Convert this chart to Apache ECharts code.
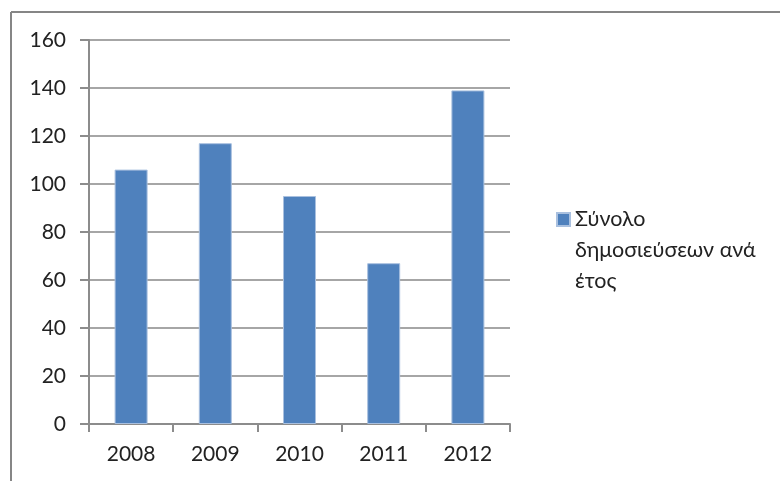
<!DOCTYPE html>
<html>
<head>
<meta charset="utf-8">
<script src="https://cdn.jsdelivr.net/npm/echarts@6/dist/echarts.min.js"></script>
<style>
html,body{margin:0;padding:0;background:#fff;}
#c{width:780px;height:481px;}
</style>
</head>
<body>
<div id="c"></div>
<script>
const categories = ['2008', '2009', '2010', '2011', '2012'];
const values = [106, 117, 95, 67, 139];
const seriesName = 'Σύνολο\nδημοσιεύσεων ανά\nέτος';
const yTicks = [0, 20, 40, 60, 80, 100, 120, 140, 160];

const chart = echarts.init(document.getElementById('c'));
const font = 'Lato, "Open Sans", "DejaVu Sans", sans-serif';
chart.setOption({
  backgroundColor: '#ffffff',
  animation: false,
  graphic: [
    { type: 'line', shape: { x1: 11, y1: 12, x2: 780, y2: 12 }, style: { stroke: '#868686', lineWidth: 2 } },
    { type: 'line', shape: { x1: 11, y1: 12, x2: 11, y2: 481 }, style: { stroke: '#868686', lineWidth: 2 } }
  ],
  grid: { left: 89, right: 270, top: 40, bottom: 57 },
  legend: {
    data: [seriesName],
    left: 551,
    top: 137,
    orient: 'vertical',
    icon: 'rect',
    itemWidth: 13,
    itemHeight: 13,
    itemGap: 6,
    formatter: name => '\n\n' + name,
    textStyle: { fontFamily: font, fontSize: 21.5, color: '#222', lineHeight: 31 }
  },
  xAxis: {
    type: 'category',
    data: categories,
    axisLine: { lineStyle: { color: '#8c8c8c', width: 2 } },
    axisTick: { show: true, length: 8, lineStyle: { color: '#8c8c8c', width: 2 }, alignWithLabel: false },
    axisLabel: { fontFamily: font, fontSize: 21, color: '#222', margin: 20 }
  },
  yAxis: {
    type: 'value',
    min: 0,
    max: 160,
    interval: 20,
    axisLine: { show: true, lineStyle: { color: '#8c8c8c', width: 2 } },
    axisTick: { show: true, length: 9, lineStyle: { color: '#8c8c8c', width: 2 } },
    axisLabel: { fontFamily: font, fontSize: 21, color: '#222', margin: 23,
      formatter: v => yTicks.includes(v) ? String(v) : '' },
    splitLine: { show: true, lineStyle: { color: '#a6a6a6', width: 2 } }
  },
  series: [{
    name: seriesName,
    type: 'bar',
    data: values,
    barWidth: 33,
    itemStyle: { color: '#4f81bd', borderColor: '#a9c0df', borderWidth: 1 }
  }]
});
</script>
</body>
</html>
